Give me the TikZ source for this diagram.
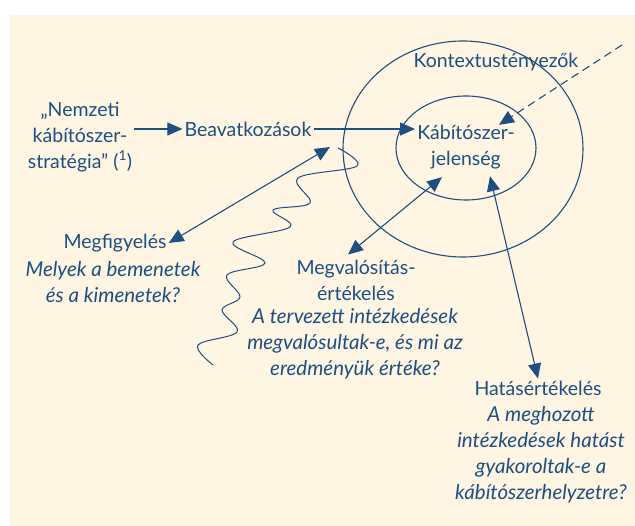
\documentclass[tikz,border=0pt]{standalone}
\usepackage{fontspec}
\setmainfont{Lato}
\usepackage{tikz}
\usetikzlibrary{arrows.meta, calc, positioning}
\definecolor{ink}{HTML}{1D4F82}
\definecolor{cream}{HTML}{FEF5E2}

\begin{document}
\begin{tikzpicture}[x=1pt, y=-1pt, >={Triangle[length=15pt,width=13pt]},
    txt/.style={text=ink, align=center, inner sep=2pt, font=\fontsize{19.5}{26}\selectfont},
    qtxt/.style={txt, font=\fontsize{20.5}{26}\selectfont\itshape},
    link/.style={draw=ink, line width=1.1pt}]
    \useasboundingbox (0,0) rectangle (635,526);
    \fill[cream] (10,15) rectangle (635,526);

    % Context and phenomenon as two rings
    \draw[link] (463,149) ellipse [x radius=120, y radius=108];
    \draw[link] (466,148) ellipse [x radius=70, y radius=52];
    \node[txt] (ctx) at (496,62) {Kontextustényezők};
    \node[txt] (phen) at (466,147) {Kábítószer-\\jelenség};

    % Strategy and interventions
    \node[txt] (strat) at (80,137) {„Nemzeti\\kábítószer-\\stratégia” (\textsuperscript{1})};
    \node[txt] (beav) at (248,129) {Beavatkozások};

    \draw[link,->] (strat.east |- beav.west) -- (beav.west);
    \draw[link,->] (beav.east) -- (beav.east -| phen.west);

    % Outside influence
    \coordinate (dashin) at (622,45);
    \draw[link,->,dash pattern=on 8pt off 5pt] (dashin) -- ($(phen.north east)+(-18,2)$);

    % Evaluation types
    \node[txt] (megf) at (115,243) {Megfigyelés};
    \node[qtxt] (megfq) at (113,282) {Melyek a bemenetek\\és a kimenetek?};

    \node[txt] (megv) at (356,280) {Megvalósítás-\\értékelés};
    \node[qtxt] (megvq) at (355,344) {A tervezett intézkedések\\megvalósultak-e, és mi az\\eredményük értéke?};

    \node[txt] (hatas) at (538,388) {Hatásértékelés};
    \node[qtxt] (hatasq) at (541,455) {A meghozott\\intézkedések hatást\\gyakoroltak-e a\\kábítószerhelyzetre?};

    \coordinate (beavfoot) at (330,147);
    \draw[link,<->] (megf.east) -- (beavfoot);
    \draw[link,<->] ($(megv.north)+(-8,-3)$) -- ($(phen.south)+(-24,6)$);
    \draw[link,<->] (hatas.north) -- ($(phen.south)+(24,5)$);

    % Wavy line
    \draw[link,line width=1pt] plot[smooth, tension=0.6] coordinates {(338,148) (357,166) (298,178) (310,203) (273,210) (290,227) (233,242) (265,263) (227,275) (240,297) (222,310) (237,332) (198,345) (213,365)};
\end{tikzpicture}
\end{document}
